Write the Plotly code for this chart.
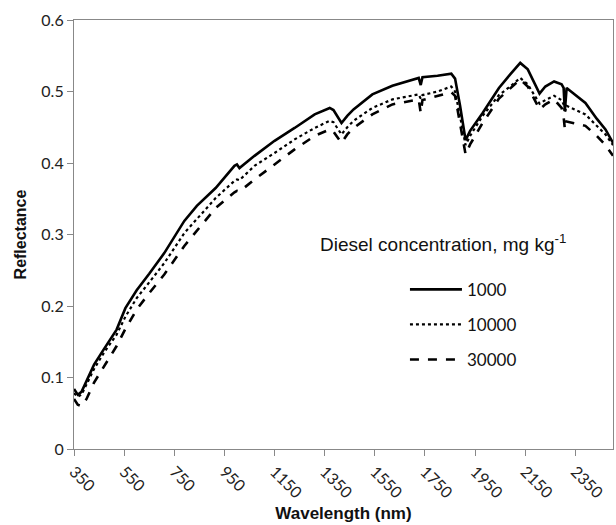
import plotly.graph_objects as go

wavelength = [350, 365, 380, 400, 430, 470, 520, 555, 600, 650, 710, 790, 840, 915, 990, 1000, 1010,
              1070, 1150, 1230, 1310, 1370, 1385, 1417, 1440, 1465, 1540, 1620, 1725, 1733, 1740,
              1800, 1855, 1870, 1890, 1912, 1930, 1980, 2045, 2090, 2130, 2160, 2207, 2230, 2265,
              2295, 2303, 2308, 2315, 2340, 2390, 2435, 2470, 2500]

refl_1000 = [0.084, 0.076, 0.080, 0.095, 0.118, 0.140, 0.167, 0.197, 0.222, 0.245, 0.274, 0.319, 0.340,
             0.365, 0.396, 0.398, 0.393, 0.410, 0.431, 0.449, 0.468, 0.477, 0.474, 0.456, 0.466, 0.475,
             0.496, 0.508, 0.519, 0.509, 0.520, 0.522, 0.525, 0.518, 0.480, 0.432, 0.445, 0.470, 0.505,
             0.524, 0.540, 0.531, 0.497, 0.507, 0.514, 0.510, 0.505, 0.473, 0.505, 0.498, 0.484, 0.462,
             0.447, 0.428]

refl_10000 = [0.078, 0.073, 0.076, 0.090, 0.112, 0.135, 0.160, 0.185, 0.211, 0.233, 0.260, 0.302, 0.322,
              0.351, 0.375, 0.377, 0.376, 0.396, 0.414, 0.433, 0.449, 0.459, 0.457, 0.440, 0.450, 0.459,
              0.477, 0.489, 0.496, 0.490, 0.495, 0.500, 0.507, 0.500, 0.465, 0.425, 0.438, 0.466, 0.495,
              0.507, 0.519, 0.510, 0.483, 0.488, 0.494, 0.488, 0.482, 0.470, 0.480, 0.476, 0.468, 0.452,
              0.440, 0.425]

refl_30000 = [0.070, 0.062, 0.060, 0.070, 0.093, 0.115, 0.144, 0.168, 0.195, 0.218, 0.244, 0.284, 0.305,
              0.337, 0.359, 0.361, 0.360, 0.377, 0.398, 0.419, 0.438, 0.447, 0.444, 0.428, 0.440, 0.449,
              0.468, 0.482, 0.489, 0.470, 0.488, 0.494, 0.499, 0.494, 0.455, 0.412, 0.426, 0.456, 0.490,
              0.505, 0.517, 0.507, 0.475, 0.482, 0.489, 0.477, 0.465, 0.447, 0.458, 0.456, 0.452, 0.438,
              0.425, 0.410]

series_names = ["1000", "10000", "30000"]
legend_title = "Diesel concentration, mg kg<sup>-1</sup>"

fig = go.Figure()
styles = [("solid", 2.6), ("dot", 2.2), ("dash", 2.6)]
for name, vals, (dash, w) in zip(series_names, [refl_1000, refl_10000, refl_30000], styles):
    fig.add_trace(go.Scatter(x=wavelength, y=vals, mode="lines", name=name, legendgroup=name,
                             line=dict(color="black", width=w, dash=dash)))

axis_common = dict(showline=True, linecolor="#888888", linewidth=1.2, mirror=True,
                   ticks="outside", ticklen=6, tickcolor="#888888", showgrid=False, zeroline=False,
                   tickfont=dict(family="Lato", size=16, color="#222222"))

fig.update_xaxes(range=[350, 2500], tick0=350, dtick=200, tickangle=45,
                 title=dict(text="Wavelength (nm)", font=dict(family="Liberation Sans", size=17, color="#111111"), standoff=6),
                 **axis_common)
fig.update_yaxes(range=[0, 0.6], dtick=0.1, tickformat=".1~f",
                 title=dict(text="Reflectance", font=dict(family="Liberation Sans", size=16, color="#111111"), standoff=10),
                 **axis_common)

fig.add_annotation(text=legend_title, xref="paper", yref="paper", x=0.453, y=0.480,
                   xanchor="left", yanchor="middle", showarrow=False,
                   font=dict(family="Liberation Sans", size=19, color="#111111"))

fig.update_layout(
    width=616, height=525,
    margin=dict(l=74, r=3, t=20, b=76),
    plot_bgcolor="white", paper_bgcolor="white",
    legend=dict(x=0.614, y=0.413, xanchor="left", yanchor="top", tracegroupgap=10, itemwidth=52,
                font=dict(family="Lato", size=17, color="#111111"),
                bgcolor="rgba(0,0,0,0)"),
)
fig.layout.xaxis.title.font.weight = "bold"
fig.layout.yaxis.title.font.weight = "bold"

fig.write_html("out.html")
